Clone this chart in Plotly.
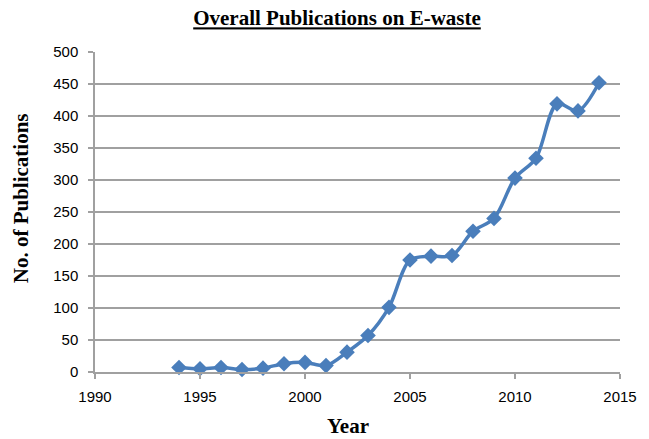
import plotly.graph_objects as go

years = [1994, 1995, 1996, 1997, 1998, 1999, 2000, 2001, 2002, 2003, 2004,
         2005, 2006, 2007, 2008, 2009, 2010, 2011, 2012, 2013, 2014]
publications = [7, 5, 7, 4, 6, 13, 15, 10, 31, 57, 101,
                175, 181, 182, 220, 240, 303, 334, 419, 408, 452]

x_ticks = [1990, 1995, 2000, 2005, 2010, 2015]
y_ticks = [0, 50, 100, 150, 200, 250, 300, 350, 400, 450, 500]

W, H = 649, 439
L, R, T, B = 95, 20, 52, 67
plot_w = W - L - R
plot_h = H - T - B

line_color = "#4a7ebb"
grid_color = "#a0a0a0"

fig = go.Figure(
    go.Scatter(
        x=years,
        y=publications,
        mode="lines+markers",
        line=dict(color=line_color, width=3.5, shape="spline", smoothing=0.9),
        marker=dict(symbol="diamond", size=12, color=line_color),
        showlegend=False,
        cliponaxis=False,
    )
)

tick_font = dict(family="Liberation Sans, Arial, sans-serif", size=15, color="#000000")
label_font = dict(family="Liberation Serif, Times New Roman, serif", size=21, color="#000000")

fig.update_layout(
    width=W,
    height=H,
    margin=dict(l=L, r=R, t=T, b=B),
    paper_bgcolor="white",
    plot_bgcolor="white",
    title=dict(
        text="<b><u>Overall Publications on E-waste</u></b>",
        x=337 / W,
        xanchor="center",
        xref="container",
        y=1 - 18 / H,
        yanchor="middle",
        yref="container",
        font=label_font,
    ),
    xaxis=dict(
        range=[1990, 2015],
        tickvals=x_ticks,
        showgrid=False,
        showline=True,
        linecolor=grid_color,
        linewidth=1.5,
        ticks="outside",
        ticklen=5,
        tickwidth=1.5,
        tickcolor=grid_color,
        tickfont=tick_font,
        ticklabelstandoff=5,
        zeroline=False,
    ),
    yaxis=dict(
        range=[0, 500],
        tickvals=y_ticks,
        showgrid=True,
        gridcolor=grid_color,
        gridwidth=1.5,
        showline=True,
        linecolor=grid_color,
        linewidth=1.5,
        ticks="outside",
        ticklen=5,
        tickwidth=1.5,
        tickcolor=grid_color,
        tickfont=tick_font,
        ticklabelstandoff=7,
        zeroline=False,
    ),
    annotations=[
        dict(
            text="<b>Year</b>",
            xref="paper", yref="paper",
            x=(352 - L) / plot_w,
            y=-(426 - (H - B)) / plot_h,
            xanchor="center", yanchor="middle",
            showarrow=False,
            font=label_font,
        ),
        dict(
            text="<b>No. of Publications</b>",
            xref="paper", yref="paper",
            x=-(L - 20) / plot_w,
            y=((H - B) - 198) / plot_h,
            xanchor="center", yanchor="middle",
            textangle=-90,
            showarrow=False,
            font=label_font,
        ),
    ],
)

fig.write_html("out.html")
